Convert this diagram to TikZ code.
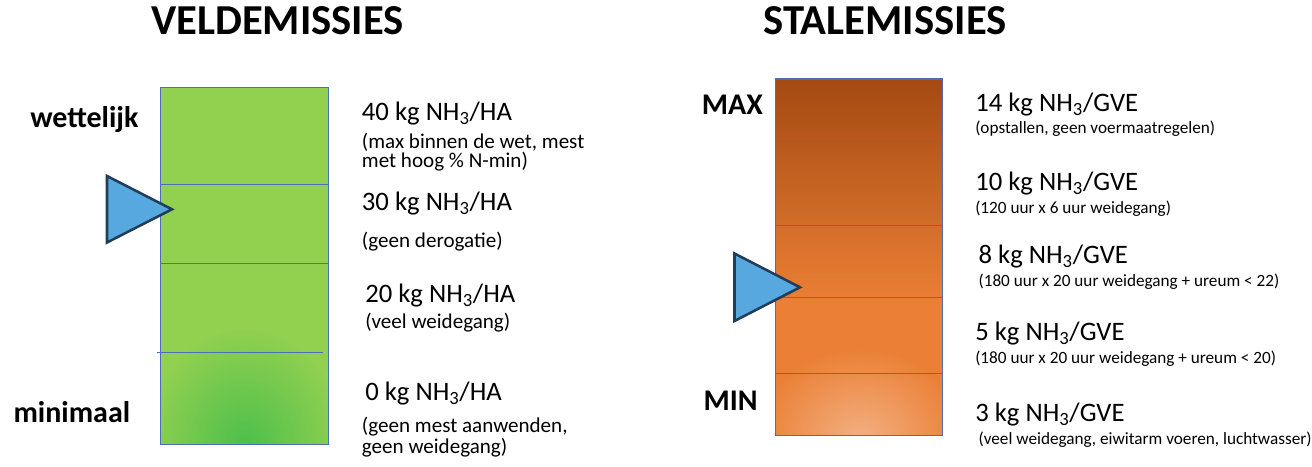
\documentclass[tikz,border=0pt]{standalone}
\usepackage{fontspec}
\setmainfont{Carlito}
\usetikzlibrary{positioning}

\definecolor{veldgreen}{HTML}{92D050}
\definecolor{veldglow}{HTML}{4CBF4B}
\definecolor{staltop}{HTML}{A44A12}
\definecolor{stalmid}{HTML}{EA7F35}
\definecolor{stalglow}{HTML}{F3AF80}
\definecolor{barline}{HTML}{4A6FB5}
\definecolor{pointerfill}{HTML}{56A8DF}
\definecolor{pointerline}{HTML}{203E5C}

\tikzset{
  title/.style={font=\fontsize{32}{38}\selectfont\bfseries, anchor=base, inner sep=0pt},
  sidelabel/.style={font=\fontsize{22.5}{27}\selectfont\bfseries, anchor=base west, inner sep=0pt},
  amount/.style={font=\fontsize{20}{24}\selectfont, anchor=base west, inner sep=0pt},
  note/.style={font=\fontsize{15.8}{14}\selectfont, anchor=base west, inner sep=0pt, align=left},
  smallnote/.style={font=\fontsize{12.9}{15}\selectfont, anchor=base west, inner sep=0pt},
  pointer/.style={fill=pointerfill, draw=pointerline, line width=1.9pt, line join=miter},
  barframe/.style={draw=barline, line width=0.8pt},
  divider/.style={draw=barline, line width=0.6pt},
}

\begin{document}
\begin{tikzpicture}[x=0.75pt, y=-0.75pt]
    \useasboundingbox (0,0) rectangle (1312,467);

    % Titles
    \node[title] (veldtitle) at (277.5,35) {VELDEMISSIES};
    \node[title] (staltitle) at (885,35) {STALEMISSIES};

    % Veld bar: green with a darker glow at the bottom
    \fill[veldgreen] (160.7,87.3) rectangle (328.3,444.7);
    \begin{scope}
        \clip (160.7,87.3) rectangle (328.3,444.7);
        \shade[inner color=veldglow, outer color=veldgreen] (245,446) ellipse [x radius=100, y radius=120];
    \end{scope}
    \foreach \y in {184, 263.3} {
        \draw[divider] (160.7,\y) -- (328.3,\y);
    }
    \draw[divider] (156.7,352) -- (323,352);
    \draw[barframe] (160.7,87.3) rectangle (328.3,444.7);

    % Stal bar: dark brown at the top to light orange at the bottom
    \shade[top color=staltop, bottom color=stalmid] (775.7,79) rectangle (942.7,300);
    \fill[stalmid] (775.7,299.5) rectangle (942.7,435.7);
    \begin{scope}
        \clip (775.7,79) rectangle (942.7,435.7);
        \shade[inner color=stalglow, outer color=stalmid] (860,437) ellipse [x radius=105, y radius=90];
    \end{scope}
    \foreach \y in {141, 225.3, 297, 373.3} {
        \draw[divider] (775.7,\y) -- (942.7,\y);
    }
    \draw[barframe] (775.7,79) rectangle (942.7,435.7);

    % Pointers
    \draw[pointer] (107,176) -- (172,209.3) -- (107,242.5) -- cycle;
    \draw[pointer] (734.5,253.5) -- (800,287.3) -- (734.5,321) -- cycle;

    % Side labels
    \node[sidelabel] (wettelijk) at (30,127.3) {wettelijk};
    \node[sidelabel] (minimaal) at (13.3,422.7) {minimaal};
    \node[sidelabel] (max) at (701.7,114) {MAX};
    \node[sidelabel] (min) at (703.3,410.7) {MIN};

    % Veld amounts
    \foreach \x/\y/\kg [count=\i] in {361.7/120/40, 361.7/210/30, 365/302.3/20, 365/400/0} {
        \node[amount] (veldamount\i) at (\x,\y) {\kg\ kg NH\textsubscript{3}/HA};
    }
    \node[note] (veldnote1) at (361.7,167.3) {(max binnen de wet, mest\\met hoog \% N-min)};
    \node[note] (veldnote2) at (361.7,247.5) {(geen derogatie)};
    \node[note] (veldnote3) at (365,328) {(veel weidegang)};
    \node[note] (veldnote4) at (361.7,453.3) {(geen mest aanwenden,\\geen weidegang)};

    % Stal amounts
    \foreach \x/\y/\kg [count=\i] in {975/111.7/14, 975/190/10, 978.3/263.3/8, 975/340/5, 975/421.7/3} {
        \node[amount] (stalamount\i) at (\x,\y) {\kg\ kg NH\textsubscript{3}/GVE};
    }
    \node[smallnote] (stalnote1) at (975,133.3) {(opstallen, geen voermaatregelen)};
    \node[smallnote] (stalnote2) at (975,213.3) {(120 uur x 6 uur weidegang)};
    \node[smallnote] (stalnote3) at (978.3,286.7) {(180 uur x 20 uur weidegang + ureum < 22)};
    \node[smallnote] (stalnote4) at (975,363.3) {(180 uur x 20 uur weidegang + ureum < 20)};
    \node[smallnote] (stalnote5) at (978.3,444) {(veel weidegang, eiwitarm voeren, luchtwasser)};
\end{tikzpicture}
\end{document}
